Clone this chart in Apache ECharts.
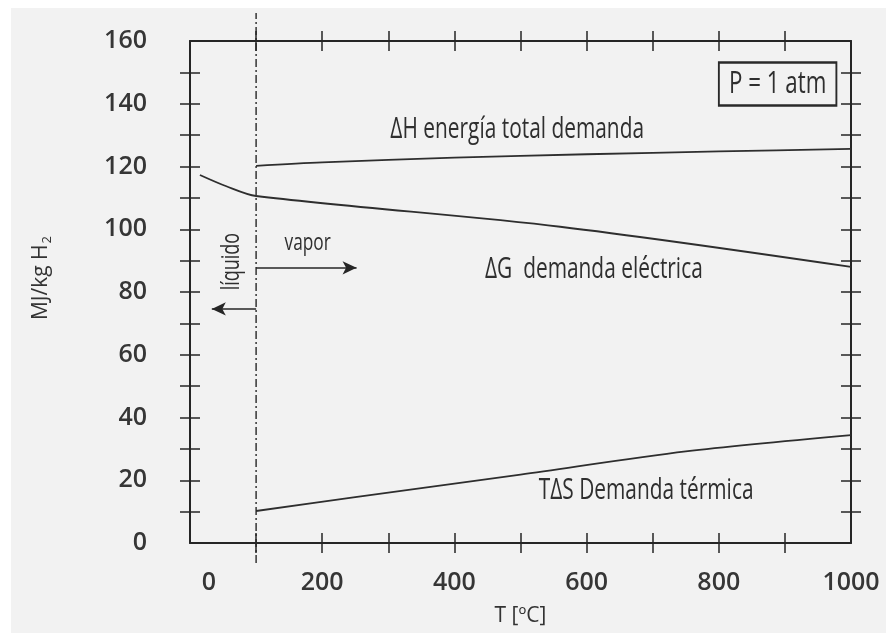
<!DOCTYPE html>
<html>
<head>
<meta charset="utf-8">
<script src="https://cdn.jsdelivr.net/npm/echarts@6/dist/echarts.min.js"></script>
<style>
	html, body { margin: 0; padding: 0; background: #fff; }
	#chart { position: absolute; left: 11px; top: 8px; width: 875px; height: 625px; }
</style>
</head>
<body>
<div id="chart"></div>
<script>
	// valores (MJ/kg H2 frente a T en ºC)
	var tempH = [100, 200, 400, 600, 800, 1000];
	var valH = [120.2, 121.3, 122.8, 123.9, 124.8, 125.6]; // ΔH
	var tempG = [15, 55, 100, 560, 1000];
	var valG = [117.3, 113.7, 110.6, 100.8, 88]; // ΔG
	var tempS = [100, 250, 500, 750, 1000];
	var valS = [10.2, 14.6, 21.8, 29.2, 34.4]; // TΔS
	var xTicks = [100, 200, 300, 400, 500, 600, 700, 800, 900];
	var yTicks = [10, 20, 30, 40, 50, 60, 70, 80, 90, 100, 110, 120, 130, 140, 150];
	var xLabels = [0, 200, 400, 600, 800, 1000];
	var yLabels = [0, 20, 40, 60, 80, 100, 120, 140, 160];
	var tPhase = 100; // cambio liquido / vapor

	var ink = '#262626';
	var tickFont = { fontFamily: 'Open Sans', fontWeight: 600, fontSize: 25, color: '#363636' };

	// textos sobre el grafico: [T, valor, texto, tamaño, giro, caja]
	var notes = [
		[495, 131.6, 'ΔH energía total demanda', 29, 0, false],
		[611, 87.0, 'ΔG  demanda eléctrica', 29, 0, false],
		[690, 16.6, 'TΔS Demanda térmica', 29, 0, false],
		[178, 95.6, 'vapor', 24, 0, false],
		[63, 89.7, 'líquido', 25, Math.PI / 2, false],
		[889, 146.3, 'P = 1 atm', 31, 0, true]
	];

	function zip(a, b) {
		var arr = [];
		for(var i = 0; i < a.length; i++) {
			arr.push([a[i], b[i]]);
		}
		return arr;
	}

	function xAxisCfg(pos, inside, main) {
		return {
			type: 'value', position: pos, min: 0, max: 1000,
			axisLine: { show: main, onZero: false, lineStyle: { color: ink, width: 2 } },
			axisTick: { show: true, inside: inside, length: 10, customValues: xTicks, lineStyle: { color: ink, width: 1.5 } },
			axisLabel: Object.assign({
				show: main && pos == 'bottom', customValues: xLabels, margin: 27,
				formatter: function(v) { return v === 0 ? '{z|0}' : String(v); },
				rich: { z: Object.assign({ padding: [0, 0, 0, 38] }, tickFont) }
			}, tickFont),
			splitLine: { show: false },
			name: main && pos == 'bottom' ? 'T [ºC]' : '',
			nameLocation: 'middle', nameGap: 63,
			nameTextStyle: { fontFamily: 'Open Sans', fontSize: 21, color: '#333' }
		};
	}

	function yAxisCfg(pos, inside, main) {
		return {
			type: 'value', position: pos, min: 0, max: 160,
			axisLine: { show: main, onZero: false, lineStyle: { color: ink, width: 2 } },
			axisTick: { show: true, inside: inside, length: 10, customValues: yTicks, lineStyle: { color: ink, width: 1.5 } },
			axisLabel: Object.assign({ show: main && pos == 'left', customValues: yLabels, margin: 43 }, tickFont),
			splitLine: { show: false },
			name: main && pos == 'left' ? 'MJ/kg H{s|2}' : '',
			nameLocation: 'middle', nameGap: 136, nameRotate: 90,
			nameTextStyle: {
				fontFamily: 'Open Sans', fontSize: 21, color: '#333', padding: [0, 0, 0, 28],
				rich: { s: { fontFamily: 'Open Sans', fontSize: 13, color: '#333', padding: [12, 0, 0, 1] } }
			}
		};
	}

	function curve(data) {
		return {
			type: 'line', data: data, symbol: 'none', smooth: 0.3,
			lineStyle: { color: '#2e2e2e', width: 1.8 }
		};
	}

	function renderNote(params, api) {
		var n = notes[params.dataIndex];
		var p = api.coord([api.value(0), api.value(1)]);
		var style = {
			text: n[2], fontFamily: 'Open Sans', fontSize: n[3], fill: '#2f2f2f',
			align: 'center', verticalAlign: 'middle'
		};
		if(n[5]) {
			style.borderColor = '#2a2a2a';
			style.borderWidth = 2.6;
			style.padding = [7, 14, 5, 14];
		}
		// texto estrecho: se comprime a lo largo de la linea de texto
		return {
			type: 'text', x: p[0], y: p[1], rotation: n[4],
			scaleX: 0.72, scaleY: 1,
			style: style
		};
	}

	var chart = echarts.init(document.getElementById('chart'));
	chart.setOption({
		animation: false,
		backgroundColor: '#f2f2f2',
		grid: { left: 179, right: 35, top: 33, bottom: 90 },
		xAxis: [xAxisCfg('bottom', true, true), xAxisCfg('bottom', false, false), xAxisCfg('top', true, true), xAxisCfg('top', false, false)],
		yAxis: [yAxisCfg('left', true, true), yAxisCfg('left', false, false), yAxisCfg('right', true, true), yAxisCfg('right', false, false)],
		series: [
			curve(zip(tempH, valH)),
			curve(zip(tempG, valG)),
			curve(zip(tempS, valS)),
			{ // linea de cambio de fase
				type: 'line', clip: false, symbol: 'none',
				data: [[tPhase, -6.4], [tPhase, 168.9]],
				lineStyle: { color: ink, width: 1.4, type: [8, 3, 2, 3] },
				markLine: {
					silent: true, symbol: ['none', 'arrow'], symbolSize: [10, 14],
					label: { show: false },
					lineStyle: { color: ink, width: 1.5, type: 'solid' },
					data: [
						[{ coord: [tPhase, 87.7] }, { coord: [252, 87.7] }],
						[{ coord: [tPhase, 74.6] }, { coord: [33, 74.6] }]
					]
				}
			},
			{ // textos
				type: 'custom', silent: true, clip: false,
				data: notes.map(function(n) { return [n[0], n[1]]; }),
				renderItem: renderNote
			}
		]
	});
</script>
</body>
</html>
